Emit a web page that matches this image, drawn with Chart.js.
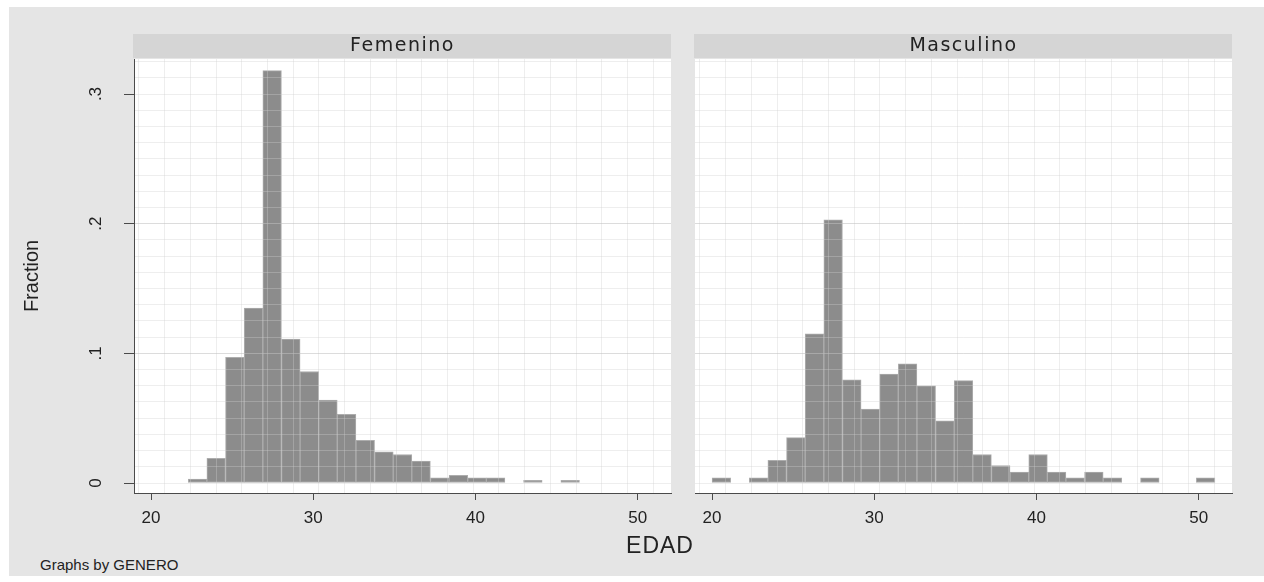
<!DOCTYPE html>
<html>
<head>
<meta charset="utf-8">
<title>EDAD por GENERO</title>
<script src="https://cdn.jsdelivr.net/npm/chart.js@4.4.1/dist/chart.umd.min.js"></script>
<style>
  body { margin: 0; background: #fff; font-family: "Liberation Sans", Arial, sans-serif; }
  #frame { position: absolute; left: 9px; top: 7px; width: 1255px; height: 569px; background: #e5e5e5; }
  .panel { position: absolute; top: 0; }
  #femPanel { left: 0; width: 681px; height: 533px; }
  #mascPanel { left: 690px; width: 552px; height: 533px; }
  #xTitle { position: absolute; left: 560px; width: 200px; top: 531px; line-height: 28px; text-align: center; font-size: 23px; letter-spacing: 1px; color: #222; }
  #note { position: absolute; left: 40px; top: 555px; line-height: 20px; font-size: 15px; color: #222; }
</style>
</head>
<body>
<div id="frame"></div>
<div class="panel" id="femPanel"><canvas id="femChart"></canvas></div>
<div class="panel" id="mascPanel"><canvas id="mascChart"></canvas></div>
<div id="xTitle">EDAD</div>
<div id="note">Graphs by GENERO</div>

<script>
// histogram bins of EDAD (same bins in both panels)
const binEdges = [20.00, 21.15, 22.30, 23.44, 24.59, 25.74, 26.89, 28.04, 29.19, 30.33,
    31.48, 32.63, 33.78, 34.93, 36.07, 37.22, 38.37, 39.52, 40.67, 41.81,
    42.96, 44.11, 45.26, 46.41, 47.56, 48.70, 49.85, 51.00];

// fraction per bin
const femFraction = [0, 0, 0.003, 0.019, 0.097, 0.135, 0.318, 0.111, 0.086, 0.064,
    0.053, 0.033, 0.024, 0.022, 0.017, 0.004, 0.006, 0.004, 0.004, 0,
    0.002, 0, 0.002, 0, 0, 0, 0];
const mascFraction = [0.004, 0, 0.004, 0.0175, 0.035, 0.115, 0.203, 0.0795, 0.057, 0.084,
    0.092, 0.075, 0.048, 0.079, 0.022, 0.0135, 0.0085, 0.022, 0.0085, 0.004,
    0.0085, 0.004, 0, 0.004, 0, 0, 0.004];

const panelNames = ['Femenino', 'Masculino'];
const xTickValues = [20, 30, 40, 50];
const yTickValues = [0, 0.1, 0.2, 0.3];
const yTickLabels = ['0', '.1', '.2', '.3'];
const yGridMajor = [0.1, 0.2];

const X_MIN = 18.95, X_MAX = 52.05;
const Y_MIN = -0.0077, Y_MAX = 0.327;
const X_GRID_START = 19.25, X_GRID_STEP = 1.585, Y_GRID_STEP = 0.0125;

const AXIS = '#4a4a4a';
const GRID_MINOR = 'rgba(207,207,207,0.35)';
const GRID_MAJOR = 'rgba(192,192,192,0.55)';
const NONE = 'rgba(0,0,0,0)';

Chart.defaults.font.family = '"Liberation Sans", Arial, sans-serif';
Chart.defaults.color = '#222';

function isIn(v, list) {
    return list.some(m => Math.abs(m - v) < 1e-6);
}

function tickValue(c) {
    return c.tick ? c.tick.value : NaN;
}

function binCenters() {
    const c = [];
    for (let i = 0; i < binEdges.length - 1; i++) c.push((binEdges[i] + binEdges[i + 1]) / 2);
    return c;
}

// grey header strip with the panel name + white plot region
const stripPlugin = {
    id: 'strip',
    beforeDraw(chart, args, opts) {
        const { ctx, chartArea: a } = chart;
        ctx.save();
        ctx.fillStyle = '#d5d5d5';
        ctx.fillRect(a.left - 1, a.top - 25, a.width + 1, 24);
        ctx.fillStyle = '#fff';
        ctx.fillRect(a.left, a.top, a.width, a.bottom - a.top);
        ctx.fillStyle = '#222';
        ctx.font = '19px "DejaVu Sans", "Liberation Sans", sans-serif';
        ctx.letterSpacing = '1.5px';
        ctx.textAlign = 'center';
        ctx.textBaseline = 'middle';
        ctx.fillText(opts.text, (a.left + a.right) / 2, a.top - 13);
        ctx.restore();
    }
};

// stata style vertical y labels
const yLabelPlugin = {
    id: 'yLabels',
    afterDraw(chart) {
        const s = chart.scales.y;
        const ctx = chart.ctx;
        ctx.save();
        ctx.font = '17px "Liberation Sans", Arial, sans-serif';
        ctx.fillStyle = '#222';
        ctx.textAlign = 'center';
        ctx.textBaseline = 'middle';
        yTickValues.forEach((v, i) => {
            ctx.save();
            ctx.translate(chart.chartArea.left - 38, s.getPixelForValue(v));
            ctx.rotate(-Math.PI / 2);
            ctx.fillText(yTickLabels[i], 0, 0);
            ctx.restore();
        });
        ctx.restore();
    }
};

function createPanel(canvasId, name, values, withYAxis) {
    const centers = binCenters();
    const ctx = document.getElementById(canvasId).getContext('2d');
    return new Chart(ctx, {
        type: 'bar',
        data: {
            datasets: [{
                label: name,
                data: values.map((v, i) => ({ x: centers[i], y: v })),
                backgroundColor: '#8c8c8c',
                borderColor: '#adadad',
                borderWidth: 1,
                borderSkipped: false,
                barPercentage: 1,
                categoryPercentage: 1
            }]
        },
        options: {
            animation: false,
            responsive: true,
            maintainAspectRatio: false,
            layout: { padding: { top: 59, right: 10, bottom: 0, left: withYAxis ? 20 : 5 } },
            plugins: {
                legend: { display: false },
                tooltip: { enabled: false },
                strip: { text: name }
            },
            scales: {
                x: {
                    type: 'linear',
                    min: X_MIN,
                    max: X_MAX,
                    offset: false,
                    afterBuildTicks: s => { s.ticks = xTickValues.map(v => ({ value: v })); },
                    afterFit: s => { s.height = 40; },
                    ticks: {
                        autoSkip: false,
                        maxRotation: 0,
                        padding: 8,
                        font: { size: 17 },
                        color: '#222'
                    },
                    grid: {
                        offset: false,
                        drawOnChartArea: false,
                        tickColor: AXIS,
                        tickLength: 7
                    },
                    border: { color: AXIS, width: 1, z: 2 }
                },
                // only carries the light vertical grid (drawn over the bars)
                xg: {
                    type: 'linear',
                    position: 'bottom',
                    min: X_MIN,
                    max: X_MAX,
                    offset: false,
                    afterBuildTicks: s => {
                        const t = [];
                        for (let v = X_GRID_START; v < X_MAX; v += X_GRID_STEP) t.push({ value: v });
                        s.ticks = t;
                    },
                    afterFit: s => { s.height = 0; },
                    ticks: { display: false },
                    grid: { offset: false, color: GRID_MINOR, drawTicks: false, z: 1 },
                    border: { display: false }
                },
                y: {
                    min: Y_MIN,
                    max: Y_MAX,
                    afterBuildTicks: s => {
                        const t = [];
                        for (let k = 0; k * Y_GRID_STEP <= Y_MAX; k++) t.push({ value: +(k * Y_GRID_STEP).toFixed(4) });
                        s.ticks = t;
                    },
                    afterFit: s => { s.width = withYAxis ? 114 : 0; },
                    ticks: { display: false },
                    title: {
                        display: withYAxis,
                        text: 'Fraction',
                        font: { size: 20, family: '"Liberation Sans Narrow", "Liberation Sans", Arial, sans-serif' },
                        color: '#222',
                        padding: 0
                    },
                    grid: {
                        color: c => isIn(tickValue(c), yGridMajor) ? GRID_MAJOR : GRID_MINOR,
                        tickColor: c => isIn(tickValue(c), yTickValues) ? AXIS : NONE,
                        tickLength: 10,
                        drawTicks: withYAxis,
                        z: 1
                    },
                    border: { display: withYAxis, color: AXIS, width: 1, z: 2 }
                }
            }
        },
        plugins: withYAxis ? [stripPlugin, yLabelPlugin] : [stripPlugin]
    });
}

createPanel('femChart', panelNames[0], femFraction, true);
createPanel('mascChart', panelNames[1], mascFraction, false);
</script>
</body>
</html>
